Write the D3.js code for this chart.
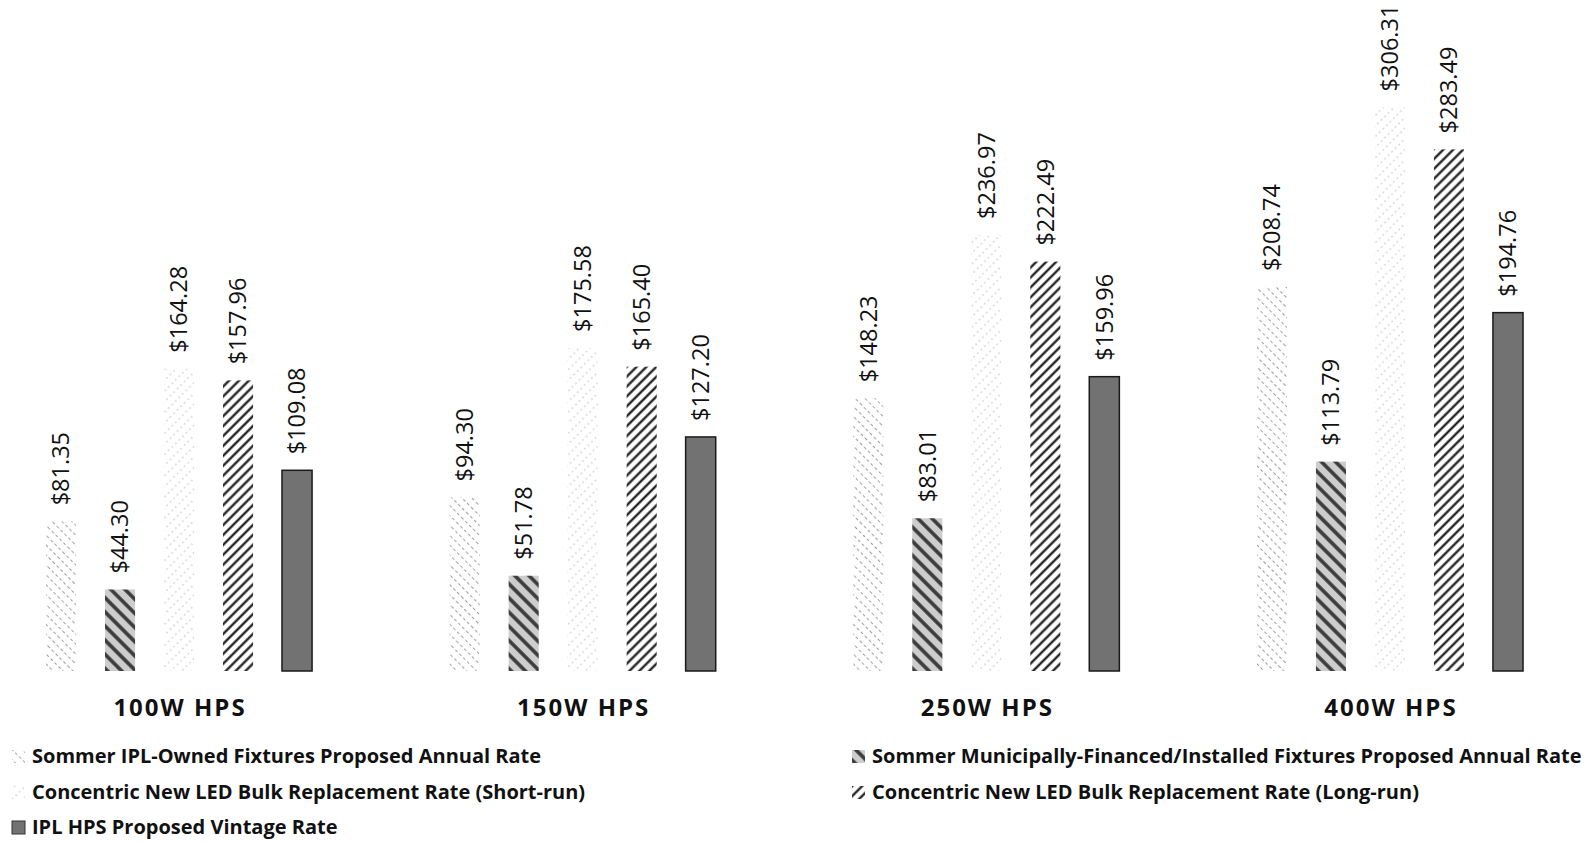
<!DOCTYPE html>
<html>
<head>
<meta charset="utf-8">
<script src="https://cdn.jsdelivr.net/npm/d3@7"></script>
<style>
  html, body { margin: 0; padding: 0; background: #ffffff; }
  svg { display: block; }
  text { font-family: "Open Sans", "Noto Sans", sans-serif; fill: #111; }
</style>
</head>
<body>
<svg id="chart" width="1591" height="843"></svg>
<script>
// ---- data ----
const categories = ["100W HPS", "150W HPS", "250W HPS", "400W HPS"];
const seriesNames = [
  "Sommer IPL-Owned Fixtures Proposed Annual Rate",
  "Sommer Municipally-Financed/Installed Fixtures Proposed Annual Rate",
  "Concentric New LED Bulk Replacement Rate (Short-run)",
  "Concentric New LED Bulk Replacement Rate (Long-run)",
  "IPL HPS Proposed Vintage Rate"
];
const sommerIPLOwned      = [81.35, 94.30, 148.23, 208.74];
const sommerMunicipal     = [44.30, 51.78, 83.01, 113.79];
const concentricShortRun  = [164.28, 175.58, 236.97, 306.31];
const concentricLongRun   = [157.96, 165.40, 222.49, 283.49];
const iplVintage          = [109.08, 127.20, 159.96, 194.76];
const seriesValues = [sommerIPLOwned, sommerMunicipal, concentricShortRun, concentricLongRun, iplVintage];

// ---- layout ----
const svg = d3.select("#chart");
const baseY = 671;

const x0 = d3.scaleBand().domain(categories).range([-22.8, 1591.8]).padding(0);
const groupW = 295;
const x1 = d3.scaleBand().domain(d3.range(seriesNames.length))
  .range([-groupW / 2, groupW / 2]).paddingInner(0.49).paddingOuter(0.245);
const y = d3.scaleLinear().domain([0, 350]).range([baseY, baseY - 350 * 1.84]);

// ---- patterns ----
const defs = svg.append("defs");
function linePattern(id, angle, spacing, stroke, width, dash, bg) {
  const p = defs.append("pattern").attr("id", id)
    .attr("patternUnits", "userSpaceOnUse")
    .attr("width", spacing).attr("height", spacing * 4)
    .attr("patternTransform", `rotate(${angle})`);
  if (bg) p.append("rect").attr("width", spacing).attr("height", spacing * 4).attr("fill", bg);
  const l = p.append("line").attr("x1", spacing / 2).attr("x2", spacing / 2)
    .attr("y1", 0).attr("y2", spacing * 4)
    .attr("stroke", stroke).attr("stroke-width", width);
  if (dash) l.attr("stroke-dasharray", dash);
}
linePattern("p0", -45, 7, "#a2a2a2", 1.1, "3 2.5", null);
linePattern("p1", -45, 10, "#3a3a3a", 3.6, null, "#cdcdcd");
linePattern("p2", 45, 7.5, "#b4b4b4", 1, "1.5 3.5", null);
linePattern("p3", 45, 7, "#111", 2.2, null, null);

const fills = ["url(#p0)", "url(#p1)", "url(#p2)", "url(#p3)", "#727272"];

// ---- bars ----
const groups = svg.append("g").selectAll("g").data(categories).join("g")
  .attr("transform", d => `translate(${x0(d) + x0.bandwidth() / 2},0)`);

groups.each(function (cat, ci) {
  const g = d3.select(this);
  seriesValues.forEach((vals, si) => {
    const v = vals[ci];
    g.append("rect")
      .attr("x", x1(si)).attr("width", x1.bandwidth())
      .attr("y", y(v)).attr("height", y(0) - y(v))
      .attr("fill", fills[si])
      .attr("stroke", si === 4 ? "#1a1a1a" : "none")
      .attr("stroke-width", si === 4 ? 1.5 : 0);
    const cx = x1(si) + x1.bandwidth() / 2;
    const ty = y(v) - 16;
    g.append("text")
      .attr("transform", `translate(${cx},${ty}) rotate(-90)`)
      .attr("dy", "0.35em")
      .attr("text-anchor", "start")
      .style("font-size", "23.5px")
      .text(d3.format("$.2f")(v));
  });
  g.append("text")
    .attr("x", 1).attr("y", 716)
    .attr("text-anchor", "middle")
    .style("font-size", "24px").style("font-weight", "bold")
    .style("letter-spacing", "2px")
    .text(cat);
});

// ---- legend ----
const legendPos = [
  { x: 12, y: 763 }, { x: 852, y: 763 },
  { x: 12, y: 799 }, { x: 852, y: 799 },
  { x: 12, y: 834 }
];
const legend = svg.append("g");
seriesNames.forEach((name, i) => {
  const p = legendPos[i];
  legend.append("rect")
    .attr("x", p.x).attr("y", p.y - 13).attr("width", 13).attr("height", 13)
    .attr("fill", fills[i])
    .attr("stroke", i === 4 ? "#333" : "none");
  legend.append("text")
    .attr("x", p.x + 20).attr("y", p.y)
    .style("font-size", "20px").style("font-weight", "bold")
    .text(name);
});
</script>
</body>
</html>
